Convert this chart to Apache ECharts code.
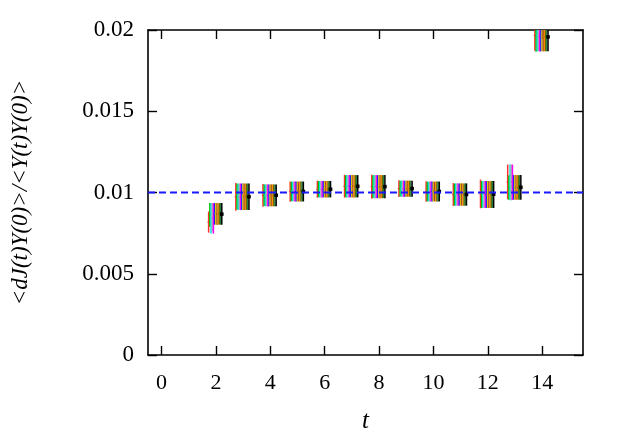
<!DOCTYPE html>
<html>
<head>
<meta charset="utf-8">
<script src="https://cdn.jsdelivr.net/npm/echarts@6/dist/echarts.min.js"></script>
<style>
html,body{margin:0;padding:0;background:#fff;}
#chart{width:627px;height:439px;}
</style>
</head>
<body>
<div id="chart"></div>
<script>
// ---- data ----
const tValues = [2, 3, 4, 5, 6, 7, 8, 9, 10, 11, 12, 13, 14];
const xTicks = [0, 2, 4, 6, 8, 10, 12, 14];
const yTicks = [0, 0.005, 0.01, 0.015, 0.02];
const plateau = 0.01;

// common extent of most error bars in each cluster
const coreLo = [0.00802,0.00893,0.00915,0.00945,0.00970,0.00970,0.00965,0.00974,0.00945,0.00919,0.00905,0.00956,0.01869];
const coreHi = [0.00935,0.01055,0.01050,0.01067,0.01071,0.01107,0.01107,0.01073,0.01067,0.01056,0.01071,0.01107,0.02050];
// bars that deviate
const redLo = [0.00753,0.00888,0.00912,0.00943,0.00968,0.00968,0.00962,0.00972,0.00943,0.00917,0.00903,0.00958,0.01872];
const redHi = [0.00883,0.01058,0.01052,0.01068,0.01073,0.01109,0.01110,0.01075,0.01069,0.01058,0.01080,0.01172,0.02060];
const greenLo = [0.00790,0.00895,0.00917,0.00947,0.00971,0.00971,0.00966,0.00975,0.00946,0.00920,0.00906,0.00955,0.01866];
const greenHi = [0.00935,0.01054,0.01049,0.01066,0.01070,0.01106,0.01106,0.01072,0.01066,0.01055,0.01070,0.01106,0.02048];
const cyanLo = [0.00747,0.00893,0.00915,0.00945,0.00970,0.00970,0.00965,0.00974,0.00945,0.00919,0.00905,0.00953,0.01869];
const cyanHi = [0.00936,0.01055,0.01050,0.01067,0.01071,0.01107,0.01107,0.01073,0.01067,0.01056,0.01071,0.01172,0.02050];
const greyLo = [0.00760,0.00894,0.00916,0.00946,0.00970,0.00969,0.00964,0.00974,0.00944,0.00918,0.00904,0.00952,0.01870];
const greyHi = [0.00934,0.01056,0.01051,0.01067,0.01072,0.01108,0.01108,0.01074,0.01068,0.01057,0.01072,0.01172,0.02052];
const magentaLo = [0.00747,0.00892,0.00914,0.00944,0.00969,0.00970,0.00965,0.00973,0.00945,0.00919,0.00905,0.00954,0.01868];
const magentaHi = [0.00935,0.01055,0.01050,0.01067,0.01071,0.01107,0.01107,0.01073,0.01067,0.01056,0.01071,0.01172,0.02050];
// final (black) estimate
const finalMid = [0.00867,0.00974,0.00983,0.01006,0.01020,0.01038,0.01036,0.01024,0.01006,0.00988,0.00990,0.01032,0.01958];

// ---- styling / layout ----
const FONT = 'Liberation Serif, Times New Roman, Times, serif';
const seriesDefs = [
  {name:'a', color:'#ff3030', lo:redLo, hi:redHi},
  {name:'b', color:'#00c000', lo:greenLo, hi:greenHi},
  {name:'c', color:'#00e0e0', lo:cyanLo, hi:cyanHi},
  {name:'d', color:'#b0b0b0', lo:greyLo, hi:greyHi},
  {name:'e', color:'#ff00ff', lo:magentaLo, hi:magentaHi},
  {name:'f', color:'#2020ff', lo:coreLo, hi:coreHi},
  {name:'g', color:'#e0c000', lo:coreLo, hi:coreHi},
  {name:'h', color:'#a0522d', lo:coreLo, hi:coreHi},
  {name:'i', color:'#ff8c00', lo:coreLo, hi:coreHi},
  {name:'j', color:'#6b6b00', lo:coreLo, hi:coreHi},
  {name:'k', color:'#208040', lo:coreLo, hi:coreHi},
  {name:'final', color:'#000000', lo:coreLo, hi:coreHi, mid:finalMid}
];
const offStart = -0.27, offStep = 0.044;

const series = seriesDefs.map((d, si) => {
  const off = offStart + si * offStep;
  const data = tValues.map((t, i) => [t + off, d.lo[i], d.hi[i], d.mid ? d.mid[i] : (d.lo[i] + d.hi[i]) / 2]);
  const isFinal = !!d.mid;
  return {
    type: 'custom',
    name: d.name,
    xAxisIndex: 0, yAxisIndex: 0,
    clip: true,
    z: 2 + si,
    data: data,
    renderItem: function (params, api) {
      const x = api.value(0);
      const p1 = api.coord([x, api.value(1)]);
      const p2 = api.coord([x, api.value(2)]);
      const pm = api.coord([x, api.value(3)]);
      const children = [
        {type:'line', shape:{x1:p1[0], y1:p1[1], x2:p2[0], y2:p2[1]}, style:{stroke:d.color, lineWidth:1.5}}
      ];
      if (isFinal) {
        children.push({type:'rect', shape:{x:pm[0]-1.8, y:pm[1]-1.8, width:3.6, height:3.6}, style:{fill:'#000'}});
      } else {
        children.push({type:'line', shape:{x1:pm[0]-1.2, y1:pm[1], x2:pm[0]+1.2, y2:pm[1]}, style:{stroke:d.color, lineWidth:1}});
      }
      return {type:'group', children: children};
    }
  };
});

series.push({
  type: 'line',
  xAxisIndex: 0, yAxisIndex: 0,
  data: [[-0.5, plateau], [15.5, plateau]],
  showSymbol: false,
  symbol: 'none',
  z: 50,
  lineStyle: {color:'#1a1aff', width:2, type:[7,4]}
});

const axisLineStyle = {show:true, onZero:false, lineStyle:{color:'#000', width:1.6}};
const tickStyle = {lineStyle:{color:'#000', width:1.4}};

const option = {
  animation: false,
  backgroundColor: '#fff',
  grid: {left:148, right:44, top:30, bottom:79, containLabel:false},
  xAxis: [
    {
      type:'value', min:-0.5, max:15.5, position:'bottom',
      axisLine: axisLineStyle,
      axisTick: Object.assign({show:true, inside:true, length:9, customValues:xTicks}, tickStyle),
      axisLabel: {show:true, customValues:xTicks, fontFamily:FONT, fontSize:22, color:'#000', margin:17},
      splitLine:{show:false},
      name:'t', nameLocation:'middle', nameGap:54,
      nameTextStyle:{fontFamily:FONT, fontSize:25, fontStyle:'italic', color:'#000'}
    },
    {
      type:'value', min:-0.5, max:15.5, position:'top',
      axisLine: axisLineStyle,
      axisTick: Object.assign({show:true, inside:true, length:9, customValues:xTicks}, tickStyle),
      axisLabel: {show:false},
      splitLine:{show:false}
    }
  ],
  yAxis: [
    {
      type:'value', min:0, max:0.02, interval:0.005, position:'left',
      axisLine: axisLineStyle,
      axisTick: Object.assign({show:true, inside:true, length:9}, tickStyle),
      axisLabel: {show:true, fontFamily:FONT, fontSize:23, color:'#000', margin:14,
        formatter: function (v) { const k = yTicks.findIndex(y => Math.abs(y - v) < 1e-9); return k >= 0 ? String(yTicks[k]) : ''; }},
      splitLine:{show:false},
      name:'<dJ(t)Y(0)>/<Y(t)Y(0)>', nameLocation:'middle', nameGap:116, nameRotate:90,
      nameTextStyle:{fontFamily:FONT, fontSize:23, fontStyle:'italic', color:'#000'}
    },
    {
      type:'value', min:0, max:0.02, interval:0.005, position:'right',
      axisLine: axisLineStyle,
      axisTick: Object.assign({show:true, inside:true, length:9}, tickStyle),
      axisLabel: {show:false},
      splitLine:{show:false}
    }
  ],
  series: series
};

const chart = echarts.init(document.getElementById('chart'), null, {renderer:'canvas'});
chart.setOption(option);
</script>
</body>
</html>
